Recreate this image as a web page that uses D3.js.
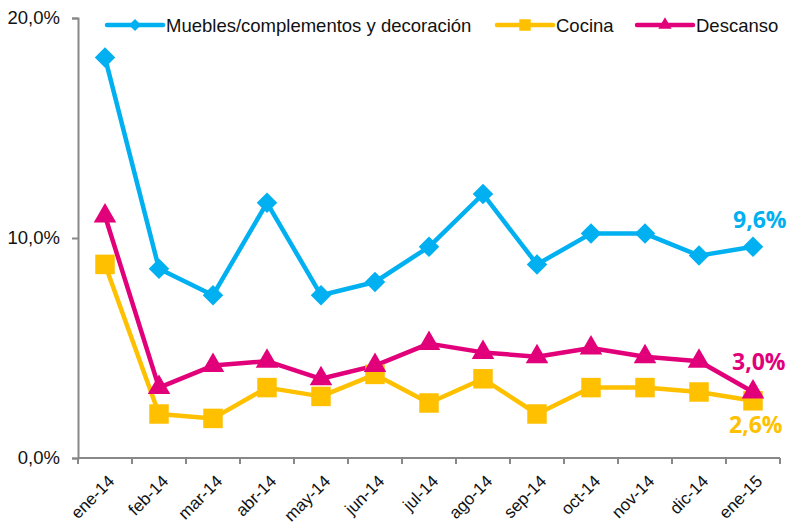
<!DOCTYPE html>
<html>
<head>
<meta charset="utf-8">
<script src="https://cdn.jsdelivr.net/npm/d3@7"></script>
<style>
body{margin:0;background:#fff;}
text{font-family:"Liberation Sans",Arial,Helvetica,sans-serif;}
</style>
</head>
<body>
<svg id="chart" width="787" height="525"></svg>
<script>
let months=['ene-14','feb-14','mar-14','abr-14','may-14','jun-14','jul-14','ago-14','sep-14','oct-14','nov-14','dic-14','ene-15']
let muebles=[18.2,8.6,7.4,11.6,7.4,8.0,9.6,12.0,8.8,10.2,10.2,9.2,9.6]
let cocina=[8.8,2.0,1.8,3.2,2.8,3.8,2.5,3.6,2.0,3.2,3.2,3.0,2.6]
let descanso=[11.0,3.2,4.2,4.4,3.6,4.2,5.2,4.8,4.6,5.0,4.6,4.4,3.0]
let yTicks=[0,10,20]
let seriesNames=['Muebles/complementos y decoración','Cocina','Descanso']

let chart=d3.select('#chart')
let mLeft=78,mRight=780,mTop=18,mBottom=458

let x=d3.scaleBand().domain(months).range([mLeft,mRight])
let y=d3.scaleLinear().domain([0,20]).range([mBottom,mTop])
let fmt=v=>v.toFixed(1).replace('.',',')+'%'

// y axis
let yAxis=chart.append('g').attr('transform','translate('+mLeft+',0)')
  .call(d3.axisLeft(y).tickValues(yTicks).tickSize(6).tickPadding(12).tickFormat(fmt))
yAxis.selectAll('path,line').attr('stroke','#888').attr('stroke-width',2)
yAxis.selectAll('text').attr('font-size',18.5).attr('fill','#111').style('font-family','"Liberation Sans",Arial,sans-serif')

// x axis, ticks on band edges
let xAxis=chart.append('g').attr('transform','translate(0,'+mBottom+')')
xAxis.append('line').attr('x1',mLeft).attr('x2',mRight).attr('stroke','#888').attr('stroke-width',2)
let edges=months.map(m=>x(m)).concat([mRight])
xAxis.selectAll('.tk').data(edges).enter().append('line')
  .attr('x1',d=>d).attr('x2',d=>d).attr('y1',0).attr('y2',6)
  .attr('stroke','#888').attr('stroke-width',2)
xAxis.selectAll('.lb').data(months).enter().append('text')
  .attr('transform',d=>'translate('+(x(d)+x.bandwidth()/2+2)+',16) rotate(-45)')
  .attr('text-anchor','end').attr('dy','0.7em')
  .attr('font-size',17).attr('fill','#111').text(d=>d)

let cx=m=>x(m)+x.bandwidth()/2
let line=d3.line().x((d,i)=>cx(months[i])).y(d=>y(d))

let series=[
  {name:seriesNames[0],values:muebles,color:'#00B0F0',shape:d3.symbolSquare,size:210,rot:45},
  {name:seriesNames[1],values:cocina,color:'#FFC000',shape:d3.symbolSquare,size:380,rot:0},
  {name:seriesNames[2],values:descanso,color:'#E2007A',shape:d3.symbolTriangle,size:220,rot:0}
]

series.forEach(s=>{
  chart.append('path').datum(s.values).attr('d',line)
    .attr('fill','none').attr('stroke',s.color).attr('stroke-width',4.5).attr('stroke-linejoin','round')
})
series.forEach(s=>{
  chart.selectAll(null).data(s.values).enter().append('path')
    .attr('d',d3.symbol().type(s.shape).size(s.size))
    .attr('transform',(d,i)=>'translate('+cx(months[i])+','+y(d)+') rotate('+s.rot+')')
    .attr('fill',s.color)
})

// end labels
let last=months.length-1
let endLabels=[
  {v:muebles[last],color:'#00B0F0',dx:-20,dy:-19},
  {v:descanso[last],color:'#E2007A',dx:-21,dy:-22},
  {v:cocina[last],color:'#FFC000',dx:-24,dy:32}
]
endLabels.forEach(l=>{
  chart.append('text').attr('x',cx(months[last])+l.dx).attr('y',y(l.v)+l.dy)
    .attr('font-size',23).attr('font-weight','bold').attr('fill',l.color)
    .style('font-family','"Open Sans",sans-serif').text(fmt(l.v))
})

// legend
let legX=[107,497,637]
series.forEach((s,i)=>{
  let g=chart.append('g').attr('transform','translate('+legX[i]+',25)')
  g.append('line').attr('x1',0).attr('x2',56).attr('stroke',s.color).attr('stroke-width',4.5).attr('stroke-linecap','round')
  g.append('path').attr('d',d3.symbol().type(s.shape).size(s.size*0.35)).attr('transform','translate(28,0) rotate('+s.rot+')').attr('fill',s.color)
  g.append('text').attr('x',59).attr('y',6.5).attr('font-size',18.5).attr('fill','#111').text(s.name)
})
</script>
</body>
</html>
